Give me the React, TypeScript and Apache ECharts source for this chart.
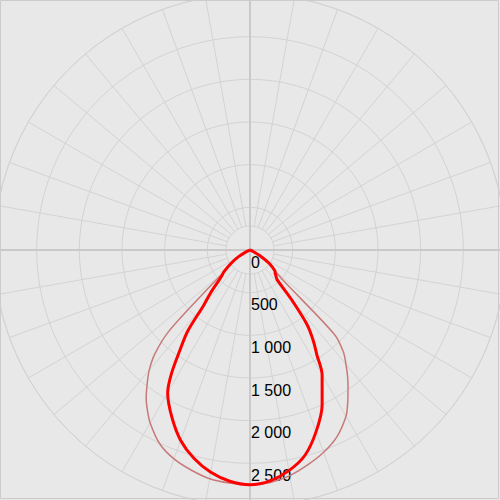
import React, { useEffect, useRef } from "react";
import * as echarts from "echarts";

// gamma angles (degrees from nadir), shared by every curve
const GAMMA = [0, 5, 10, 15, 20, 25, 30, 32.5, 35, 37.5, 40, 42.5, 45, 47.5, 50, 55, 60, 65, 70, 75, 90];

// thick red curve (cd)
const THICK_LEFT = [2750, 2720, 2645, 2530, 2375, 2165, 1930, 1710, 1430, 1200, 840, 690, 540, 450, 400, 270, 150, 50, 10, 0, 0];
const THICK_RIGHT = [2750, 2715, 2625, 2490, 2265, 2000, 1690, 1460, 1290, 1090, 750, 470, 430, 400, 380, 280, 130, 40, 0, 0, 0];

// thin curve (cd)
const THIN_LEFT = [2750, 2742, 2722, 2669, 2605, 2505, 2340, 2235, 2121, 1980, 1837, 1650, 1340, 664, 400, 270, 150, 50, 10, 0, 0];
const THIN_RIGHT = [2750, 2735, 2685, 2608, 2523, 2413, 2250, 2130, 2003, 1880, 1750, 1620, 1400, 526, 380, 280, 130, 40, 0, 0, 0];

// radius scale
const R_MIN = 0;
const R_MAX = 3000;
const R_STEP = 500;

function buildPoints(left: number[], right: number[]) {
  const pts: number[][] = [];
  for (let i = GAMMA.length - 1; i >= 1; i--) {
    pts.push([left[i], 360 - GAMMA[i]]);
  }
  for (let i = 0; i < GAMMA.length; i++) {
    pts.push([right[i], GAMMA[i]]);
  }
  return pts;
}

function fmt(v: number) {
  return String(v).replace(/\B(?=(\d{3})+(?!\d))/g, " ");
}

export default function App() {
  const ref = useRef<HTMLDivElement>(null);
  useEffect(() => {
    if (!ref.current) return;
    const chart = echarts.init(ref.current, null, { renderer: "svg" });
    const hidden = { show: false };
    chart.setOption({
      animation: false,
      backgroundColor: "#e8e8e8",
      polar: [
        { center: ["50%", "50%"], radius: [0, 256] },
        { center: ["50%", "50%"], radius: [24, 256] },
      ],
      angleAxis: [
        {
          polarIndex: 0,
          type: "value",
          min: 0,
          max: 360,
          interval: 90,
          startAngle: 270,
          clockwise: false,
          z: 1,
          axisLine: hidden,
          axisTick: hidden,
          axisLabel: hidden,
          splitLine: { show: true, lineStyle: { color: "#c9c9c9", width: 2 } },
        },
        {
          polarIndex: 1,
          type: "value",
          min: 0,
          max: 360,
          interval: 10,
          startAngle: 270,
          clockwise: false,
          z: 0,
          axisLine: hidden,
          axisTick: hidden,
          axisLabel: hidden,
          splitLine: { show: true, lineStyle: { color: "#d3d3d3", width: 1 } },
        },
      ],
      radiusAxis: [
        {
          polarIndex: 0,
          type: "value",
          min: R_MIN,
          max: R_MAX,
          interval: R_STEP,
          axisLine: hidden,
          axisTick: hidden,
          splitLine: { show: true, lineStyle: { color: "#d3d3d3", width: 1 } },
          axisLabel: {
            show: true,
            margin: 0,
            align: "left",
            verticalAlign: "top",
            padding: [4, 0, 0, 1],
            color: "#000",
            fontSize: 16,
            fontFamily: "Liberation Sans, Arial, sans-serif",
            showMaxLabel: false,
            formatter: (v: number) => (v >= R_MAX ? "" : fmt(v)),
          },
        },
        {
          polarIndex: 1,
          type: "value",
          min: 0,
          max: 1,
          interval: 1,
          axisLine: hidden,
          axisTick: hidden,
          axisLabel: hidden,
          splitLine: { show: true, lineStyle: { color: "#d3d3d3", width: 1 } },
        },
      ],
      graphic: [
        {
          type: "rect",
          shape: { x: 0.5, y: 0.5, width: 498, height: 498 },
          style: { fill: "none", stroke: "#cccccc", lineWidth: 1 },
          z: 10,
          silent: true,
        },
      ],
      series: [
        {
          type: "line",
          coordinateSystem: "polar",
          polarIndex: 0,
          data: buildPoints(THIN_LEFT, THIN_RIGHT),
          showSymbol: false,
          smooth: 0.3,
          lineStyle: { color: "#c77a7a", width: 1.5 },
          z: 3,
        },
        {
          type: "line",
          coordinateSystem: "polar",
          polarIndex: 0,
          data: buildPoints(THICK_LEFT, THICK_RIGHT),
          showSymbol: false,
          smooth: 0.3,
          lineStyle: { color: "#ff0000", width: 3 },
          z: 4,
        },
      ],
    });
    return () => chart.dispose();
  }, []);
  return (
    <div
      ref={ref}
      style={{ position: "absolute", left: 0, top: 0, width: 500, height: 500 }}
    />
  );
}
